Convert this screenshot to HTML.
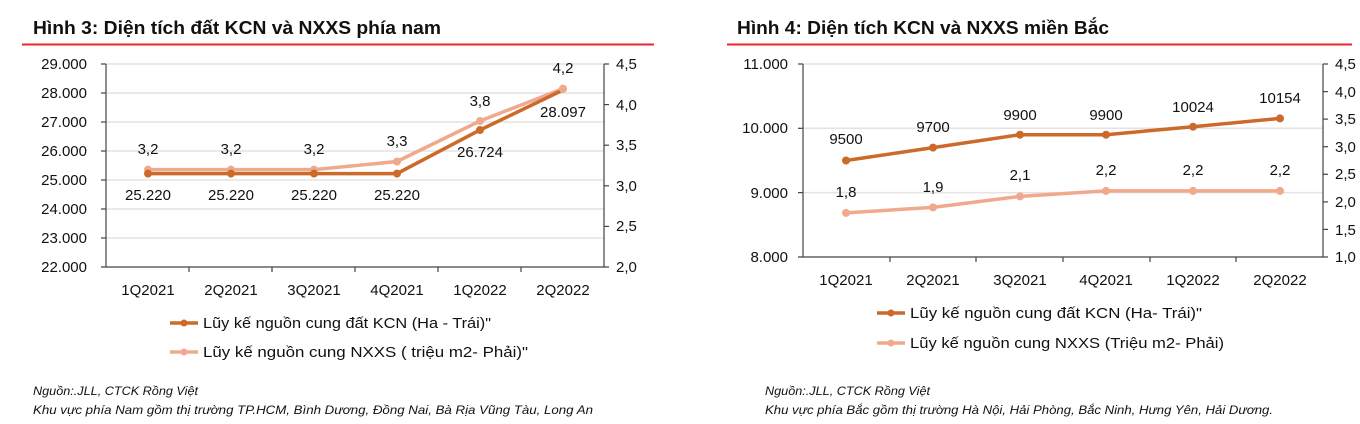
<!DOCTYPE html>
<html><head><meta charset="utf-8"><style>body{margin:0;background:#fff}svg{display:block}text{font-family:"Liberation Sans",sans-serif;fill:#111}</style></head><body>
<svg width="1360" height="424" viewBox="0 0 1360 424" xmlns="http://www.w3.org/2000/svg">
<text x="33" y="34" font-size="18" font-weight="bold" textLength="408" lengthAdjust="spacingAndGlyphs">Hình 3: Diện tích đất KCN và NXXS phía nam</text>
<line x1="22" y1="44.5" x2="654" y2="44.5" stroke="#e8262a" stroke-width="2"/>
<text x="737" y="34" font-size="18" font-weight="bold" textLength="372" lengthAdjust="spacingAndGlyphs">Hình 4: Diện tích KCN và NXXS miền Bắc</text>
<line x1="727" y1="44.5" x2="1352" y2="44.5" stroke="#e8262a" stroke-width="2"/>

<g stroke="#e3e3e3" stroke-width="1.5">
<line x1="106" y1="64" x2="604" y2="64"/><line x1="106" y1="93" x2="604" y2="93"/><line x1="106" y1="122" x2="604" y2="122"/><line x1="106" y1="151" x2="604" y2="151"/><line x1="106" y1="180" x2="604" y2="180"/><line x1="106" y1="209" x2="604" y2="209"/><line x1="106" y1="238" x2="604" y2="238"/>
</g>
<g stroke="#444" stroke-width="1.2">
<line x1="106" y1="64" x2="106" y2="267"/><line x1="604" y1="64" x2="604" y2="267"/><line x1="101" y1="267" x2="609" y2="267"/>
<line x1="101" y1="64" x2="106" y2="64"/><line x1="101" y1="93" x2="106" y2="93"/><line x1="101" y1="122" x2="106" y2="122"/><line x1="101" y1="151" x2="106" y2="151"/><line x1="101" y1="180" x2="106" y2="180"/><line x1="101" y1="209" x2="106" y2="209"/><line x1="101" y1="238" x2="106" y2="238"/>
<line x1="604" y1="64" x2="609" y2="64"/><line x1="604" y1="104.6" x2="609" y2="104.6"/><line x1="604" y1="145.2" x2="609" y2="145.2"/><line x1="604" y1="185.8" x2="609" y2="185.8"/><line x1="604" y1="226.4" x2="609" y2="226.4"/>
<line x1="189" y1="267" x2="189" y2="272"/><line x1="272" y1="267" x2="272" y2="272"/><line x1="355" y1="267" x2="355" y2="272"/><line x1="438" y1="267" x2="438" y2="272"/><line x1="521" y1="267" x2="521" y2="272"/>
</g>
<g font-size="15" text-anchor="end">
<text x="87" y="69">29.000</text><text x="87" y="98">28.000</text><text x="87" y="127">27.000</text><text x="87" y="156">26.000</text><text x="87" y="185">25.000</text><text x="87" y="214">24.000</text><text x="87" y="243">23.000</text><text x="87" y="272">22.000</text>
</g>
<g font-size="15">
<text x="616" y="69">4,5</text><text x="616" y="110">4,0</text><text x="616" y="150">3,5</text><text x="616" y="191">3,0</text><text x="616" y="231">2,5</text><text x="616" y="272">2,0</text>
</g>
<g font-size="15" text-anchor="middle">
<text x="148" y="295">1Q2021</text><text x="231" y="295">2Q2021</text><text x="314" y="295">3Q2021</text><text x="397" y="295">4Q2021</text><text x="480" y="295">1Q2022</text><text x="563" y="295">2Q2022</text>
</g>
<polyline points="148,169.6 231,169.6 314,169.6 397,161.5 480,121 563,88.6" fill="none" stroke="#f0a98c" stroke-width="3.5"/>
<g fill="#f0a98c"><circle cx="148" cy="169.6" r="4"/><circle cx="231" cy="169.6" r="4"/><circle cx="314" cy="169.6" r="4"/><circle cx="397" cy="161.5" r="4"/><circle cx="480" cy="121" r="4"/><circle cx="563" cy="88.6" r="4"/></g>
<polyline points="148,173.6 231,173.6 314,173.6 397,173.6 480,130 563,90" fill="none" stroke="#cc6a2b" stroke-width="3.5"/>
<g fill="#cc6a2b"><circle cx="148" cy="173.6" r="4"/><circle cx="231" cy="173.6" r="4"/><circle cx="314" cy="173.6" r="4"/><circle cx="397" cy="173.6" r="4"/><circle cx="480" cy="130" r="4"/></g>
<circle cx="563" cy="89" r="4" fill="#f0a98c"/>
<g font-size="15" text-anchor="middle">
<text x="148" y="154">3,2</text><text x="231" y="154">3,2</text><text x="314" y="154">3,2</text><text x="397" y="146">3,3</text><text x="480" y="106">3,8</text><text x="563" y="73">4,2</text>
<text x="148" y="200">25.220</text><text x="231" y="200">25.220</text><text x="314" y="200">25.220</text><text x="397" y="200">25.220</text><text x="480" y="157">26.724</text><text x="563" y="117">28.097</text>
</g>
<line x1="170" y1="323" x2="198" y2="323" stroke="#cc6a2b" stroke-width="3.5"/><circle cx="184" cy="323" r="3.5" fill="#cc6a2b"/>
<text x="203" y="328" font-size="15" textLength="288" lengthAdjust="spacingAndGlyphs">Lũy kế nguồn cung đất KCN (Ha - Trái)"</text>
<line x1="170" y1="352" x2="198" y2="352" stroke="#f0a98c" stroke-width="3.5"/><circle cx="184" cy="352" r="3.5" fill="#f0a98c"/>
<text x="203" y="357" font-size="15" textLength="325" lengthAdjust="spacingAndGlyphs">Lũy kế nguồn cung  NXXS ( triệu m2- Phải)"</text>
<g font-size="12" font-style="italic">
<text x="33" y="395" textLength="165" lengthAdjust="spacingAndGlyphs">Nguồn:.JLL, CTCK Rồng Việt</text>
<text x="33" y="414" textLength="560" lengthAdjust="spacingAndGlyphs">Khu vực phía Nam gồm thị trường TP.HCM, Bình Dương, Đồng Nai, Bà Rịa Vũng Tàu, Long An</text>
</g>

<g stroke="#e3e3e3" stroke-width="1.5">
<line x1="803" y1="64" x2="1323" y2="64"/><line x1="803" y1="128.3" x2="1323" y2="128.3"/><line x1="803" y1="192.6" x2="1323" y2="192.6"/>
</g>
<g stroke="#444" stroke-width="1.2">
<line x1="803" y1="64" x2="803" y2="257"/><line x1="1323" y1="64" x2="1323" y2="257"/><line x1="798" y1="257" x2="1328" y2="257"/>
<line x1="798" y1="64" x2="803" y2="64"/><line x1="798" y1="128.3" x2="803" y2="128.3"/><line x1="798" y1="192.6" x2="803" y2="192.6"/>
<line x1="1323" y1="64" x2="1328" y2="64"/><line x1="1323" y1="91.6" x2="1328" y2="91.6"/><line x1="1323" y1="119.1" x2="1328" y2="119.1"/><line x1="1323" y1="146.7" x2="1328" y2="146.7"/><line x1="1323" y1="174.3" x2="1328" y2="174.3"/><line x1="1323" y1="201.9" x2="1328" y2="201.9"/><line x1="1323" y1="229.4" x2="1328" y2="229.4"/>
<line x1="890" y1="257" x2="890" y2="262"/><line x1="976" y1="257" x2="976" y2="262"/><line x1="1063" y1="257" x2="1063" y2="262"/><line x1="1150" y1="257" x2="1150" y2="262"/><line x1="1236" y1="257" x2="1236" y2="262"/>
</g>
<g font-size="15" text-anchor="end">
<text x="788" y="69">11.000</text><text x="788" y="133">10.000</text><text x="788" y="198">9.000</text><text x="788" y="262">8.000</text>
</g>
<g font-size="15">
<text x="1335" y="69">4,5</text><text x="1335" y="97">4,0</text><text x="1335" y="124">3,5</text><text x="1335" y="152">3,0</text><text x="1335" y="179">2,5</text><text x="1335" y="207">2,0</text><text x="1335" y="235">1,5</text><text x="1335" y="262">1,0</text>
</g>
<g font-size="15" text-anchor="middle">
<text x="846" y="285">1Q2021</text><text x="933" y="285">2Q2021</text><text x="1020" y="285">3Q2021</text><text x="1106" y="285">4Q2021</text><text x="1193" y="285">1Q2022</text><text x="1280" y="285">2Q2022</text>
</g>
<polyline points="846,160.5 933,147.6 1020,134.7 1106,134.7 1193,126.7 1280,118.4" fill="none" stroke="#cc6a2b" stroke-width="3.5"/>
<g fill="#cc6a2b"><circle cx="846" cy="160.5" r="4"/><circle cx="933" cy="147.6" r="4"/><circle cx="1020" cy="134.7" r="4"/><circle cx="1106" cy="134.7" r="4"/><circle cx="1193" cy="126.7" r="4"/><circle cx="1280" cy="118.4" r="4"/></g>
<polyline points="846,212.9 933,207.4 1020,196.4 1106,190.9 1193,190.9 1280,190.9" fill="none" stroke="#f0a98c" stroke-width="3.5"/>
<g fill="#f0a98c"><circle cx="846" cy="212.9" r="4"/><circle cx="933" cy="207.4" r="4"/><circle cx="1020" cy="196.4" r="4"/><circle cx="1106" cy="190.9" r="4"/><circle cx="1193" cy="190.9" r="4"/><circle cx="1280" cy="190.9" r="4"/></g>
<g font-size="15" text-anchor="middle">
<text x="846" y="144">9500</text><text x="933" y="132">9700</text><text x="1020" y="120">9900</text><text x="1106" y="120">9900</text><text x="1193" y="112">10024</text><text x="1280" y="103">10154</text>
<text x="846" y="197">1,8</text><text x="933" y="192">1,9</text><text x="1020" y="180">2,1</text><text x="1106" y="175">2,2</text><text x="1193" y="175">2,2</text><text x="1280" y="175">2,2</text>
</g>
<line x1="877" y1="313" x2="905" y2="313" stroke="#cc6a2b" stroke-width="3.5"/><circle cx="891" cy="313" r="3.5" fill="#cc6a2b"/>
<text x="910" y="318" font-size="15" textLength="292" lengthAdjust="spacingAndGlyphs">Lũy kế nguồn cung  đất KCN (Ha- Trái)"</text>
<line x1="877" y1="343" x2="905" y2="343" stroke="#f0a98c" stroke-width="3.5"/><circle cx="891" cy="343" r="3.5" fill="#f0a98c"/>
<text x="910" y="348" font-size="15" textLength="314" lengthAdjust="spacingAndGlyphs">Lũy kế nguồn cung NXXS (Triệu m2- Phải)</text>
<g font-size="12" font-style="italic">
<text x="765" y="395" textLength="165" lengthAdjust="spacingAndGlyphs">Nguồn:.JLL, CTCK Rồng Việt</text>
<text x="765" y="414" textLength="508" lengthAdjust="spacingAndGlyphs">Khu vực phía Bắc gồm thị trường Hà Nội, Hải Phòng, Bắc Ninh, Hưng Yên, Hải Dương.</text>
</g>
</svg>
</body></html>
